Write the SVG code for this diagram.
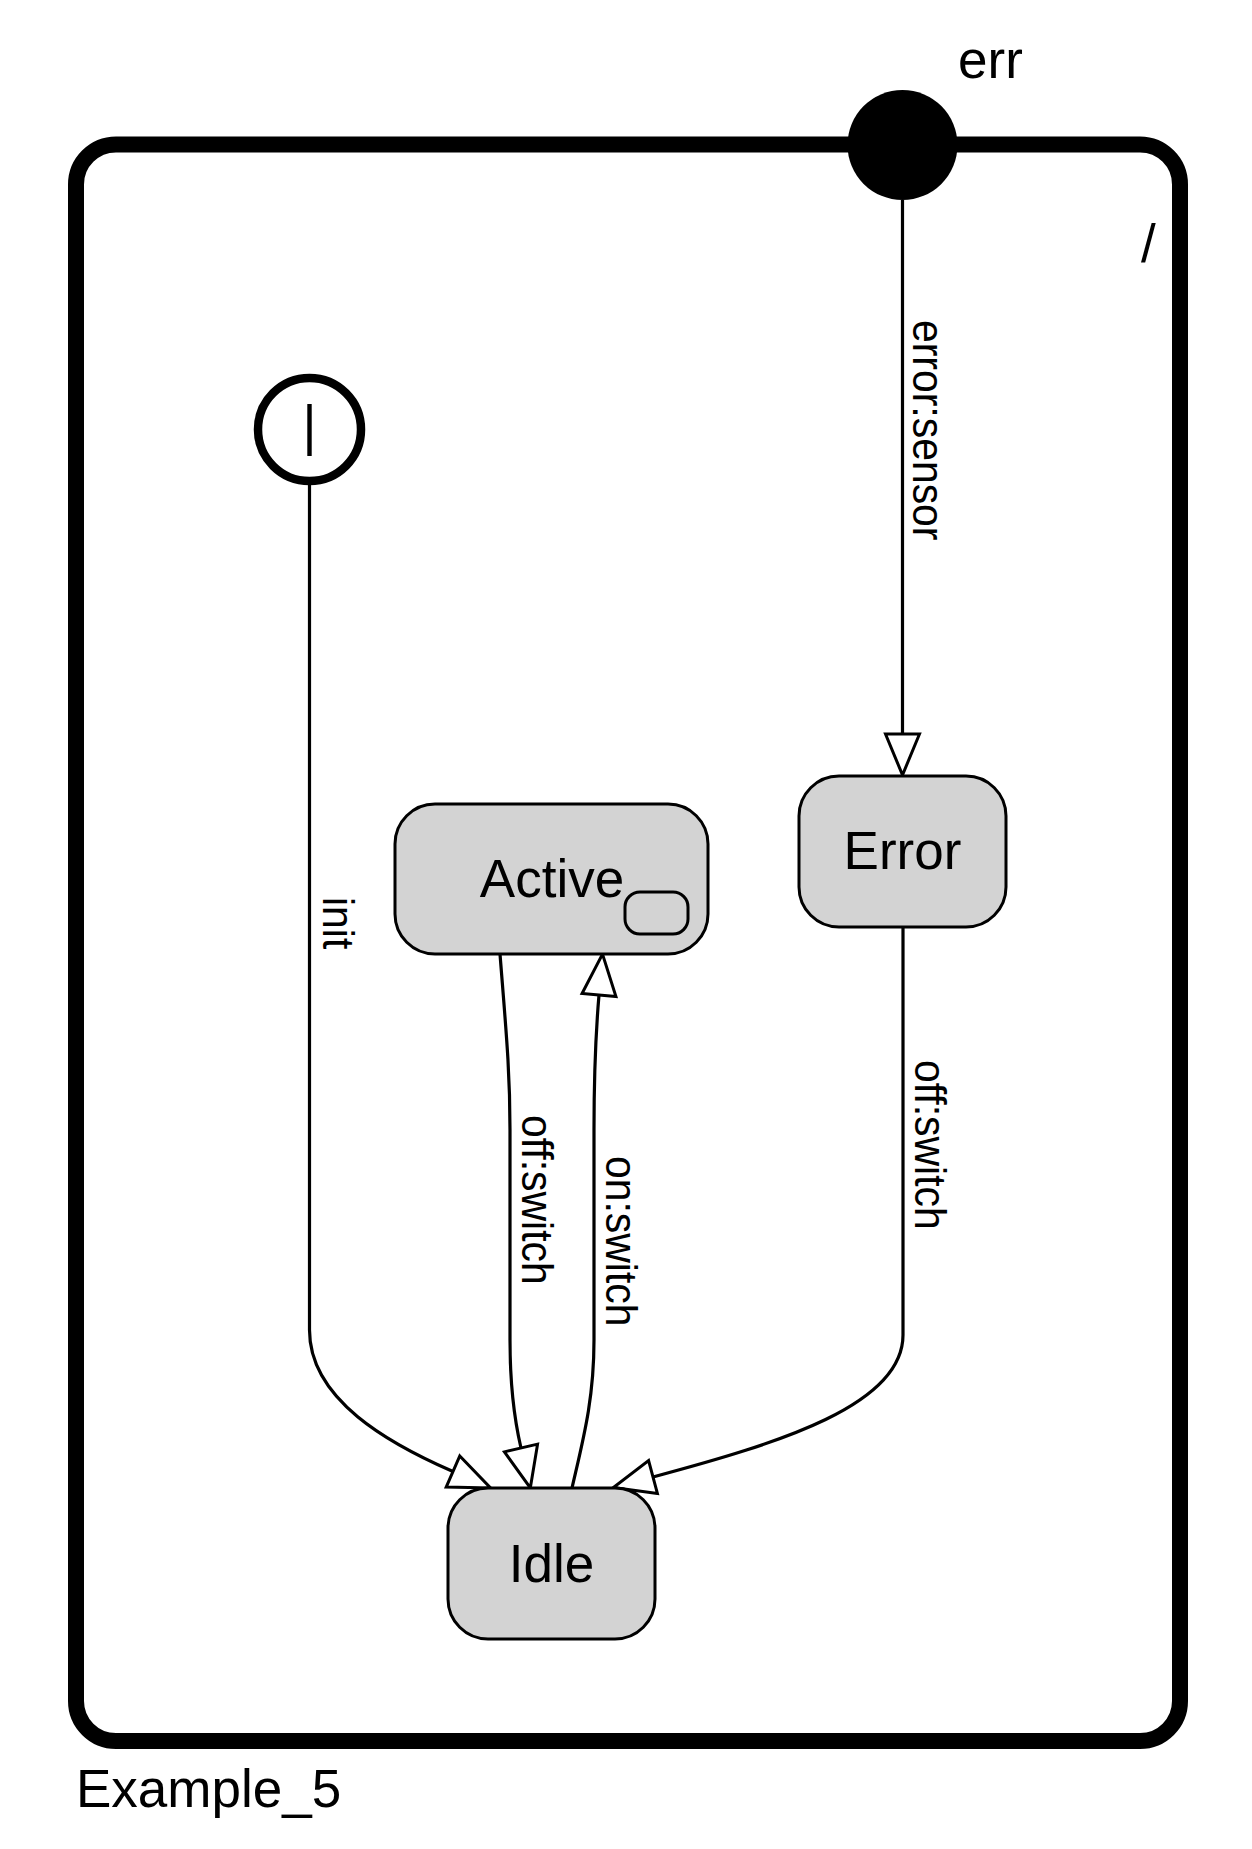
<svg xmlns="http://www.w3.org/2000/svg" width="1252" height="1849" viewBox="0 0 1252 1849">
<style>
  .frame { fill: #ffffff; stroke: #000000; stroke-width: 16; }
  .state { fill: #d3d3d3; stroke: #000000; stroke-width: 3; }
  .big { font-family: "Liberation Sans", Arial, sans-serif; font-size: 53px; fill: #000000; }
  .elbl { font-family: "Liberation Sans", Arial, sans-serif; font-size: 44px; fill: #000000; }
  .edge { fill: none; stroke: #000000; stroke-width: 3.2; marker-end: url(#arr); }
</style>
<defs>
  <marker id="arr" markerUnits="userSpaceOnUse" markerWidth="50" markerHeight="40" refX="0" refY="0" orient="auto" overflow="visible">
    <path d="M0,-17 L41,0 L0,17 Z" fill="#ffffff" stroke="#000000" stroke-width="3"/>
  </marker>
</defs>
<rect width="1252" height="1849" fill="#ffffff"/>

<g id="Example_5">
  <rect class="frame" x="76" y="144.5" width="1104" height="1596.5" rx="40" ry="40"/>
  <text class="big" x="76" y="1807">Example_5</text>
  <text class="big" x="1141" y="262">/</text>
</g>

<g id="edges">
  <g id="edge-err-Error">
    <path class="edge" d="M902.5,200 L902.5,734"/>
    <text class="elbl" transform="translate(913,320) rotate(90) scale(0.93,1)">error:sensor</text>
  </g>
  <g id="edge-init-Idle">
    <path class="edge" d="M309.5,485 L309.5,1330 C309.5,1400 390,1444 453,1471.5"/>
    <text class="elbl" transform="translate(322.5,897) rotate(90) scale(0.93,1)">init</text>
  </g>
  <g id="edge-Active-Idle">
    <path class="edge" d="M500,954 C506,1030 510,1070 510,1130 L510,1340 C510,1385 514,1418 521,1448"/>
    <text class="elbl" transform="translate(521.5,1115) rotate(90) scale(0.93,1)">off:switch</text>
  </g>
  <g id="edge-Idle-Active">
    <path class="edge" d="M572,1488 C583,1440 594,1400 594,1340 L594,1130 C594,1060 596,1030 599,995"/>
    <text class="elbl" transform="translate(606,1156) rotate(90) scale(0.93,1)">on:switch</text>
  </g>
  <g id="edge-Error-Idle">
    <path class="edge" d="M903,927 L903,1335 C903,1405 780,1443 653,1477"/>
    <text class="elbl" transform="translate(914.5,1060) rotate(90) scale(0.93,1)">off:switch</text>
  </g>
</g>

<g id="err">
  <circle cx="902.5" cy="145" r="55" fill="#000000"/>
  <text class="big" x="958" y="78">err</text>
</g>

<g id="initial">
  <circle cx="309.5" cy="429.5" r="51.5" fill="#ffffff" stroke="#000000" stroke-width="8.5"/>
  <line x1="309.5" y1="404" x2="309.5" y2="456" stroke="#000000" stroke-width="4.4"/>
</g>

<g id="Active">
  <rect class="state" x="395" y="804" width="313" height="150" rx="40" ry="40"/>
  <text class="big" x="552" y="897" text-anchor="middle">Active</text>
  <rect x="625" y="892" width="63" height="42" rx="15" ry="15" fill="none" stroke="#000000" stroke-width="3"/>
</g>

<g id="Error">
  <rect class="state" x="799" y="776" width="207" height="151" rx="40" ry="40"/>
  <text class="big" x="902.5" y="869" text-anchor="middle">Error</text>
</g>

<g id="Idle">
  <rect class="state" x="448" y="1488" width="207" height="151" rx="40" ry="40"/>
  <text class="big" x="551.5" y="1582" text-anchor="middle">Idle</text>
</g>
</svg>
